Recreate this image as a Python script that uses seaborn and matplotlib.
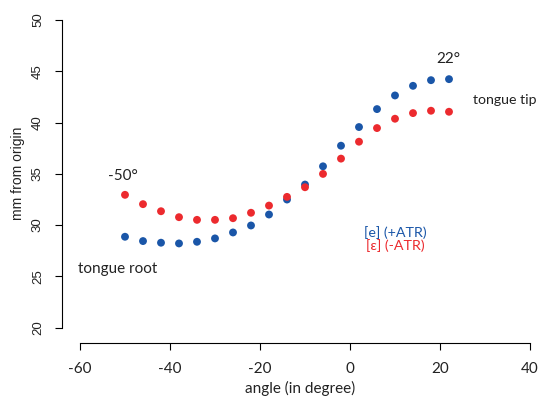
import matplotlib
matplotlib.use("Agg")
import matplotlib.pyplot as plt
import seaborn as sns
import pandas as pd

angles = [-50, -46, -42, -38, -34, -30, -26, -22, -18, -14, -10, -6, -2, 2, 6, 10, 14, 18, 22]
atr_plus = [28.86, 28.44, 28.28, 28.21, 28.37, 28.70, 29.28, 29.96, 31.03, 32.49, 33.95, 35.73,
            37.74, 39.56, 41.31, 42.64, 43.58, 44.13, 44.23]
atr_minus = [32.95, 32.04, 31.35, 30.77, 30.51, 30.51, 30.67, 31.2, 31.9, 32.75, 33.69, 34.99,
             36.48, 38.13, 39.46, 40.37, 40.92, 41.15, 41.05]
series_names = ["[e] (+ATR)", "[ɛ] (-ATR)"]
x_ticks = [-60, -40, -20, 0, 20, 40]
y_ticks = [20, 25, 30, 35, 40, 45, 50]

BLUE = "#1a56a8"
RED = "#ec2a2e"
TXT = "#222222"

df = pd.DataFrame({
    "angle": angles * 2,
    "mm": atr_plus + atr_minus,
    "vowel": [series_names[0]] * len(angles) + [series_names[1]] * len(angles),
})

sns.set_theme(style="white")
plt.rcParams['font.family'] = ['Lato', 'DejaVu Sans']

W, H = 539, 396
fig = plt.figure(figsize=(W / 100, H / 100), dpi=100)
left_px, right_px, top_px, bottom_px = 62, 539, 4.6, 343
ax = fig.add_axes([left_px / W, 1 - bottom_px / H, (right_px - left_px) / W, (bottom_px - top_px) / H])

sns.scatterplot(data=df, x="angle", y="mm", hue="vowel", palette=[BLUE, RED],
                s=32, linewidth=0, legend=False, ax=ax, zorder=3)

ax.set_xlim(-64, -64 + (right_px - left_px) / 4.5)
ax.set_ylim(18.5, 51.5)

for s in ["top", "right"]:
    ax.spines[s].set_visible(False)
ax.spines["left"].set_bounds(20, 50)
ax.spines["bottom"].set_bounds(-60, 40)
for s in ["left", "bottom"]:
    ax.spines[s].set_color("black")
    ax.spines[s].set_linewidth(0.8)

ax.set_xticks(x_ticks)
ax.set_xticklabels([str(v) for v in x_ticks], fontsize=11, color=TXT)
ax.set_yticks(y_ticks)
ax.set_yticklabels([str(v) for v in y_ticks], fontsize=9.5, rotation=90, va="center",
                   family="Liberation Sans", color=TXT)
ax.tick_params(axis="both", direction="out", length=5, width=0.8, color="black",
               left=True, bottom=True)
ax.tick_params(axis="x", pad=9)
ax.tick_params(axis="y", pad=8)

ax.set_xlabel("angle (in degree)", fontsize=11, color=TXT, labelpad=3)
ax.set_ylabel("mm from origin", fontsize=10, color=TXT, family="Liberation Sans", labelpad=5)

ax.text(-50.4, 34.8, "-50°", fontsize=11, ha="center", va="center", color=TXT)
ax.text(21.8, 46.2, "22°", fontsize=11, ha="center", va="center", color=TXT)
ax.text(27.3, 42.2, "tongue tip", fontsize=10.2, ha="left", va="center", color=TXT)
ax.text(-60.5, 25.7, "tongue root", fontsize=11, ha="left", va="center", color=TXT)
ax.text(3.0, 29.3, series_names[0], fontsize=10.3, ha="left", va="center", color=BLUE)
ax.text(3.6, 28.0, series_names[1], fontsize=10.3, ha="left", va="center", color=RED)

fig.savefig("out.png", dpi=100)
